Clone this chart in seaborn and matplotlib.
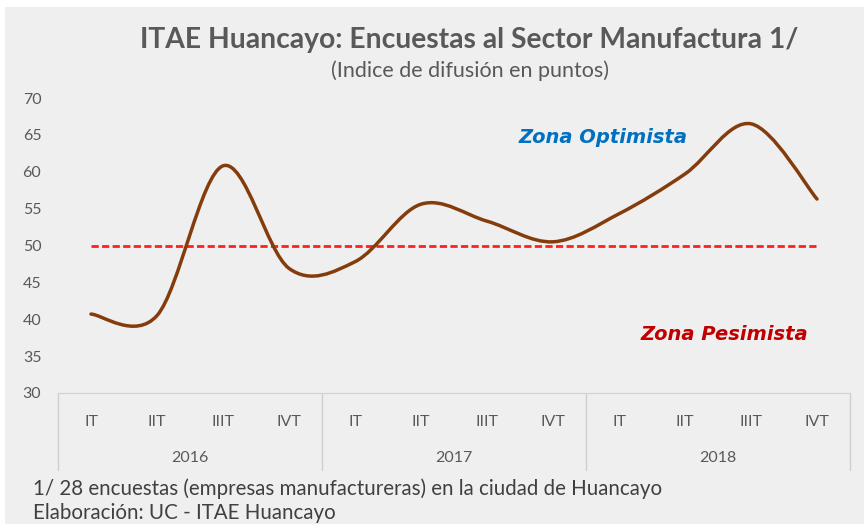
import numpy as np
import pandas as pd
import seaborn as sns
import matplotlib.pyplot as plt
from matplotlib.path import Path
from matplotlib.patches import PathPatch, Rectangle
from matplotlib.transforms import blended_transform_factory

# %%
years = ["2016", "2017", "2018"]
quarters = ["IT", "IIT", "IIIT", "IVT"]
indice = [40.7, 40.5, 60.8, 46.9, 47.8, 55.6, 53.3, 50.5, 54.3, 59.7, 66.5, 56.3]
umbral = [50, 50, 50, 50, 50, 50, 50, 50, 50, 50, 50, 50]
yticks = [30, 35, 40, 45, 50, 55, 60, 65, 70]

df = pd.DataFrame({
    "year": np.repeat(years, len(quarters)),
    "quarter": quarters * len(years),
    "indice": indice,
    "umbral": umbral,
})
df["pos"] = np.arange(len(df))

# %%
sns.set_style("white")
plt.rcParams["font.family"] = ["Lato", "DejaVu Sans"]

bg = "#efefef"
grey = "#595959"
W, H = 864, 524

fig = plt.figure(figsize=(8.64, 5.24), dpi=100, facecolor="white")
fig.patches.append(Rectangle((5 / W, 0), 1, 1 - 7 / H, transform=fig.transFigure,
                             facecolor=bg, edgecolor="none", zorder=-10))
ax = fig.add_axes([58 / W, 1 - 393 / H, 792 / W, 295 / H])
ax.set_facecolor(bg)

# reference line at 50
sns.lineplot(data=df, x="pos", y="umbral", ax=ax, color="#ff1f1f", lw=2,
             linestyle=(0, (2.6, 1.2)), zorder=2)

# smoothed series, Excel-like bezier through the points
pts = df[["pos", "indice"]].to_numpy(float)
ext = np.vstack([pts[0], pts, pts[-1]])
verts, codes = [pts[0]], [Path.MOVETO]
for i in range(len(pts) - 1):
    p0, p1, p2, p3 = ext[i], ext[i + 1], ext[i + 2], ext[i + 3]
    verts += [p1 + (p2 - p0) / 6, p2 - (p3 - p1) / 6, p2]
    codes += [Path.CURVE4] * 3
ax.add_patch(PathPatch(Path(verts, codes), facecolor="none", edgecolor="#843c0c",
                       lw=2.5, capstyle="round", zorder=3))

ax.set_xlim(-0.5, 11.5)
ax.set_ylim(30, 70)
ax.set_yticks(yticks)
ax.set_xticks(df["pos"])
ax.set_xticklabels(df["quarter"])
ax.set_xlabel("")
ax.set_ylabel("")
ax.tick_params(axis="y", length=0, pad=12, labelsize=11.5, labelcolor=grey)
ax.tick_params(axis="x", length=0, pad=16, labelsize=11.5, labelcolor=grey)
for s in ["left", "right", "top"]:
    ax.spines[s].set_visible(False)
ax.spines["bottom"].set_color("#d0d0d0")

trans = blended_transform_factory(ax.transData, ax.transAxes)
for x in [-0.5, 3.5, 7.5, 11.5]:
    ax.plot([x, x], [0, -0.262], transform=trans, clip_on=False, color="#d0d0d0", lw=1)
for k, yr in enumerate(years):
    ax.text(k * 4 + 1.5, -0.22, yr, transform=trans, ha="center", va="center",
            fontsize=11.5, color=grey)

zona_font = ["DejaVu Sans"]
ax.text(7.76, 64.6, "Zona Optimista", color="#0070c0", fontsize=14, family=zona_font,
        fontweight="bold", fontstyle="italic", ha="center", va="center")
ax.text(9.6, 37.9, "Zona Pesimista", color="#c00000", fontsize=14, family=zona_font,
        fontweight="bold", fontstyle="italic", ha="center", va="center")

fig.text(469 / W, 1 - 40 / H, "ITAE Huancayo: Encuestas al Sector Manufactura 1/",
         ha="center", va="center", fontsize=20.3, fontweight="bold", color=grey)
fig.text(470 / W, 1 - 71 / H, "(Indice de difusión en puntos)",
         ha="center", va="center", fontsize=15.5, color=grey)
fig.text(33 / W, 1 - 489 / H, "1/ 28 encuestas (empresas manufactureras) en la ciudad de Huancayo",
         ha="left", va="center", fontsize=14.8, color="#404040")
fig.text(33 / W, 1 - 513 / H, "Elaboración: UC - ITAE Huancayo",
         ha="left", va="center", fontsize=14.8, color="#404040")

fig.savefig("out.png", dpi=100, facecolor=fig.get_facecolor())
